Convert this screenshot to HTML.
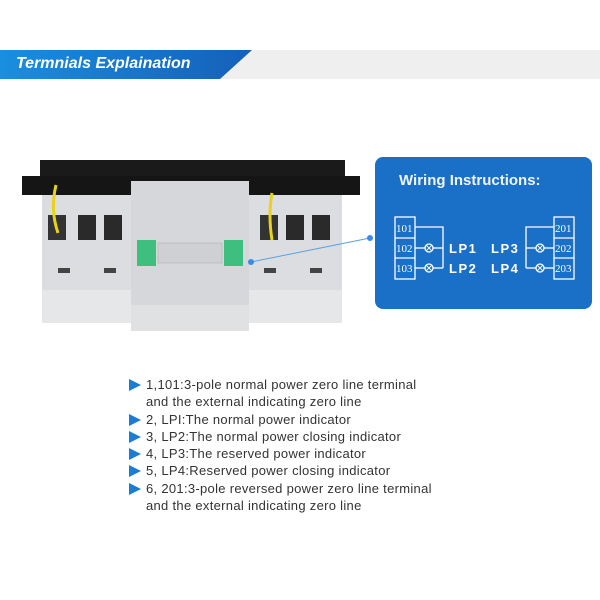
<!DOCTYPE html>
<html><head><style>
body{margin:0;width:600px;height:600px;background:#fff;position:relative;overflow:hidden;font-family:"Liberation Sans",sans-serif}
.a{position:absolute}
.li{position:absolute;left:146px;font-size:13px;letter-spacing:0.3px;color:#333;white-space:nowrap}
.tri{position:absolute;left:129px;width:0;height:0;border-top:6px solid transparent;border-bottom:6px solid transparent;border-left:12px solid #1f7bd0}
</style></head><body>
<div class="a" style="left:0;top:50px;width:600px;height:29px;background:#efefef"></div>
<svg class="a" style="left:0;top:50px" width="260" height="29"><defs><linearGradient id="g" x1="0" x2="1"><stop offset="0" stop-color="#1a8ee0"/><stop offset="1" stop-color="#1560b8"/></linearGradient></defs><polygon points="0,0 252,0 220,29 0,29" fill="url(#g)"/></svg>
<div class="a" style="left:16px;top:55px;color:#fff;font-weight:bold;font-style:italic;font-size:16px">Termnials Explaination</div>

<svg class="a" style="left:0;top:0" width="380" height="340">
<rect x="40" y="160" width="305" height="20" fill="#1a1a1a"/>
<rect x="22" y="176" width="338" height="19" fill="#151515"/>
<rect x="42" y="195" width="300" height="128" fill="#dcdde0"/>
<rect x="42" y="290" width="300" height="33" fill="#e6e7e9"/>
<rect x="48" y="215" width="18" height="25" fill="#333"/><rect x="78" y="215" width="18" height="25" fill="#2a2a2a"/><rect x="104" y="215" width="18" height="25" fill="#2a2a2a"/>
<rect x="260" y="215" width="18" height="25" fill="#333"/><rect x="286" y="215" width="18" height="25" fill="#2a2a2a"/><rect x="312" y="215" width="18" height="25" fill="#2a2a2a"/>
<rect x="58" y="268" width="12" height="5" fill="#444"/><rect x="104" y="268" width="12" height="5" fill="#444"/>
<rect x="264" y="268" width="12" height="5" fill="#444"/><rect x="310" y="268" width="12" height="5" fill="#444"/>
<path d="M56 185 Q50 210 58 233" stroke="#e8d21a" stroke-width="3" fill="none"/>
<path d="M272 193 Q268 215 272 240" stroke="#e8d21a" stroke-width="3" fill="none"/>
<rect x="131" y="181" width="118" height="150" fill="#d6d7da"/>
<rect x="131" y="305" width="118" height="26" fill="#e0e1e3"/>
<rect x="137" y="240" width="19" height="26" fill="#3fbf7f"/>
<rect x="224" y="240" width="19" height="26" fill="#3fbf7f"/>
<rect x="158" y="243" width="64" height="20" fill="#cfd0d3" stroke="#aaa" stroke-width=".5"/>
<line x1="251" y1="262" x2="370" y2="238" stroke="#5aa0e0" stroke-width="1"/>
<circle cx="251" cy="262" r="3" fill="#3a8ce0"/><circle cx="370" cy="238" r="3" fill="#3a8ce0"/>
</svg>

<div class="a" style="left:375px;top:157px;width:217px;height:152px;background:#1a6fc6;border-radius:8px"></div>
<div class="a" style="left:399px;top:172px;color:#eef4fb;font-weight:bold;font-size:15px">Wiring Instructions:</div>
<svg class="a" style="left:370px;top:150px" width="230" height="160" font-family="Liberation Sans, sans-serif" fill="none" stroke="#fff" stroke-width="1.3">
<rect x="25" y="67" width="20" height="62"/><line x1="25" y1="88" x2="45" y2="88"/><line x1="25" y1="108" x2="45" y2="108"/>
<rect x="184" y="67" width="20" height="62"/><line x1="184" y1="88" x2="204" y2="88"/><line x1="184" y1="108" x2="204" y2="108"/>
<polyline points="45,77 73,77 73,118"/><line x1="45" y1="98" x2="55" y2="98"/><line x1="63" y1="98" x2="73" y2="98"/><line x1="45" y1="118" x2="55" y2="118"/><line x1="63" y1="118" x2="73" y2="118"/>
<circle cx="59" cy="98" r="4"/><circle cx="59" cy="118" r="4"/>
<path d="M56.2 95.2l5.6 5.6M61.8 95.2l-5.6 5.6M56.2 115.2l5.6 5.6M61.8 115.2l-5.6 5.6M167.2 95.2l5.6 5.6M172.8 95.2l-5.6 5.6M167.2 115.2l5.6 5.6M172.8 115.2l-5.6 5.6" stroke-width="1"/>
<polyline points="184,77 156,77 156,118"/><line x1="156" y1="98" x2="166" y2="98"/><line x1="174" y1="98" x2="184" y2="98"/><line x1="156" y1="118" x2="166" y2="118"/><line x1="174" y1="118" x2="184" y2="118"/>
<circle cx="170" cy="98" r="4"/><circle cx="170" cy="118" r="4"/>
<g stroke="none" fill="#fff" font-size="11"><text x="26" y="82" font-family="Liberation Serif,serif">101</text><text x="26" y="102" font-family="Liberation Serif,serif">102</text><text x="26" y="122" font-family="Liberation Serif,serif">103</text>
<text x="185" y="82" font-family="Liberation Serif,serif">201</text><text x="185" y="102" font-family="Liberation Serif,serif">202</text><text x="185" y="122" font-family="Liberation Serif,serif">203</text>
<g font-size="13" font-weight="bold" letter-spacing="1.5"><text x="79" y="103">LP1</text><text x="79" y="123">LP2</text><text x="121" y="103">LP3</text><text x="121" y="123">LP4</text></g></g>
</svg>

<div class="tri" style="top:379px"></div><div class="li" style="top:377px">1,101:3-pole normal power zero line terminal</div>
<div class="li" style="top:394px">and the external indicating zero line</div>
<div class="tri" style="top:414px"></div><div class="li" style="top:412px">2, LPI:The normal power indicator</div>
<div class="tri" style="top:431px"></div><div class="li" style="top:429px">3, LP2:The normal power closing indicator</div>
<div class="tri" style="top:448px"></div><div class="li" style="top:446px">4, LP3:The reserved power indicator</div>
<div class="tri" style="top:465px"></div><div class="li" style="top:463px">5, LP4:Reserved power closing indicator</div>
<div class="tri" style="top:483px"></div><div class="li" style="top:481px">6, 201:3-pole reversed power zero line terminal</div>
<div class="li" style="top:498px">and the external indicating zero line</div>
</body></html>
